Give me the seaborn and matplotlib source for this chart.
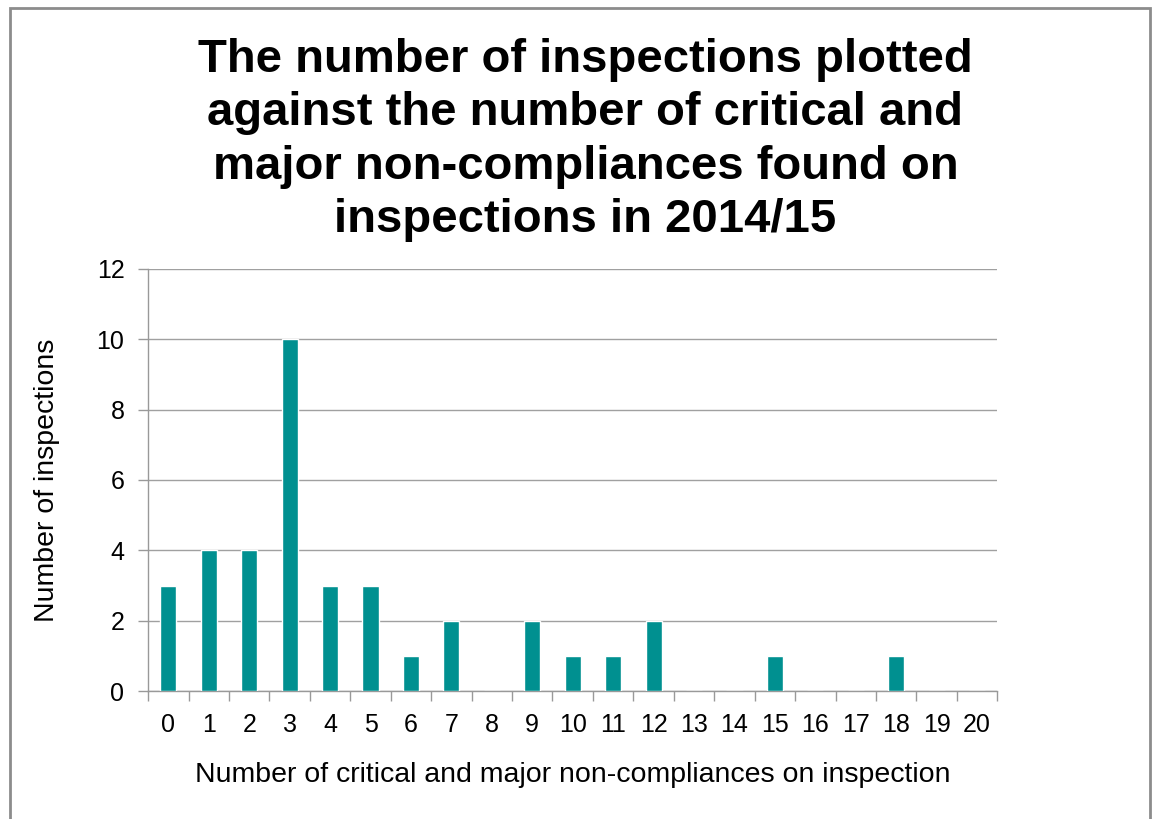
"""Bar chart of inspections vs number of critical and major non-compliances."""
import matplotlib.pyplot as plt
import numpy as np
import pandas as pd
import seaborn as sns
from matplotlib.patches import Rectangle

non_compliances = [str(i) for i in range(21)]
inspections = [3, 4, 4, 10, 3, 3, 1, 2, 0, 2, 1, 1, 2, 0, 0, 1, 0, 0, 1, 0, 0]

df = pd.DataFrame({"findings": non_compliances, "inspections": inspections})

sns.set_style("white")
plt.rcParams["font.family"] = ["Liberation Sans", "DejaVu Sans"]
plt.rcParams["text.color"] = "black"
plt.rcParams["axes.labelcolor"] = "black"
plt.rcParams["xtick.color"] = "black"
plt.rcParams["ytick.color"] = "black"

fig = plt.figure(figsize=(11.57, 8.19), dpi=100)
ax = fig.add_axes([0.128, 0.156, 0.734, 0.516])

sns.barplot(data=df, x="findings", y="inspections", order=non_compliances,
            color="#009090", saturation=1, width=0.4, ax=ax, zorder=3)

ax.set_ylim(0, 12)
ax.set_yticks(np.arange(0, 13, 2))
ax.set_xlim(-0.5, 20.5)
ax.yaxis.grid(True, color="#a0a0a0", linewidth=1)
ax.set_axisbelow(True)
for side in ["top", "right"]:
    ax.spines[side].set_visible(False)
for side in ["left", "bottom"]:
    ax.spines[side].set_color("#999999")
    ax.spines[side].set_linewidth(1)

ax.set_xticks(np.arange(-0.5, 21), minor=True)
ax.tick_params(axis="x", which="major", bottom=False, length=0, labelsize=18, pad=16)
ax.tick_params(axis="x", which="minor", bottom=True, length=7, width=1,
               color="#999999", direction="out")
ax.tick_params(axis="y", left=True, length=7, width=1, color="#999999",
               labelcolor="black", direction="out", labelsize=18, pad=10)

ax.set_xlabel("Number of critical and major non-compliances on inspection",
              fontsize=20.5, labelpad=18)
ax.set_ylabel("Number of inspections", fontsize=20.5, labelpad=26)

fig.text(0.506, 0.829,
         "The number of inspections plotted\nagainst the number of critical and\n"
         "major non-compliances found on\ninspections in 2014/15",
         ha="center", va="center", fontsize=34, fontweight="bold", linespacing=1.28)

fig.patches.append(Rectangle((0.009, -0.05), 0.985, 1.04, transform=fig.transFigure,
                             fill=False, edgecolor="#8c8c8c", linewidth=2))

plt.savefig("out.png", dpi=100)
